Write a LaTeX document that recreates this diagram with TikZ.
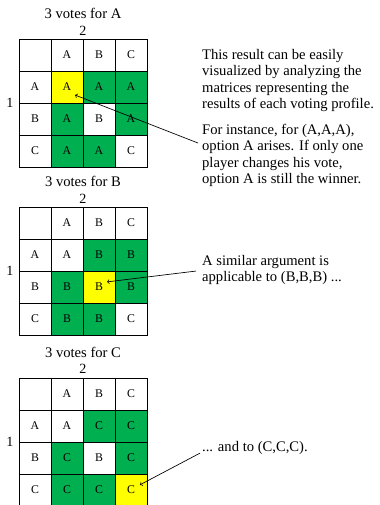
\documentclass[tikz,border=0pt]{standalone}
\usepackage{fontspec}
\setmainfont{Liberation Serif}
\usetikzlibrary{calc}
\tikzset{>=to}
\definecolor{wingreen}{RGB}{0,176,80}
\definecolor{pickyellow}{RGB}{255,255,0}
\tikzset{cell/.style = {draw, line width=0.7, minimum size=1cm, inner sep=0, font=\fontsize{10.5}{12}\selectfont}}
\tikzset{note/.style = {align=left, anchor=north west, inner sep=0, font=\fontsize{13}{14.67}\selectfont}}
\newcommand{\profile}[4]{
   \node[font=\fontsize{13}{15}\selectfont] (#1title) at (2.594,#2+0.81) {3 votes for #3};
   \node[font=\fontsize{12.5}{14}\selectfont] (#1two) at (2.594,#2+0.27) {2};
   \node[font=\fontsize{12.5}{14}\selectfont] (#1one) at (0.31,#2-2) {1};
   \foreach \r/\c/\txt/\col in {#4}
   {
      \node[cell, fill=\col] (#1-\r-\c) at (1.094+\c,#2-0.5-\r) {\txt};
   }
}

\begin{document}
\begin{tikzpicture}
		\useasboundingbox (0,0) rectangle (11.875,-15.781);

		% Matrices
		\profile{A}{-1.219}{A}{0/0//white, 0/1/A/white, 0/2/B/white, 0/3/C/white,
			1/0/A/white, 1/1/A/pickyellow, 1/2/A/wingreen, 1/3/A/wingreen,
			2/0/B/white, 2/1/A/wingreen, 2/2/B/white, 2/3/A/wingreen,
			3/0/C/white, 3/1/A/wingreen, 3/2/A/wingreen, 3/3/C/white}
		%
		\profile{B}{-6.469}{B}{0/0//white, 0/1/A/white, 0/2/B/white, 0/3/C/white,
			1/0/A/white, 1/1/A/white, 1/2/B/wingreen, 1/3/B/wingreen,
			2/0/B/white, 2/1/B/wingreen, 2/2/B/pickyellow, 2/3/B/wingreen,
			3/0/C/white, 3/1/B/wingreen, 3/2/B/wingreen, 3/3/C/white}
		%
		\profile{C}{-11.81}{C}{0/0//white, 0/1/A/white, 0/2/B/white, 0/3/C/white,
			1/0/A/white, 1/1/A/white, 1/2/C/wingreen, 1/3/C/wingreen,
			2/0/B/white, 2/1/C/wingreen, 2/2/B/white, 2/3/C/wingreen,
			3/0/C/white, 3/1/C/wingreen, 3/2/C/wingreen, 3/3/C/pickyellow}

		% Comments
		\node[note] (textA1) at (6.31,-1.53) {This result can be easily\\visualized by analyzing the\\matrices representing the\\results of each voting profile.};
		\node[note] (textA2) at (6.31,-3.86) {For instance, for (A,A,A),\\option A arises. If only one\\player changes his vote,\\option A is still the winner.};
		\node[note] (textB) at (6.31,-7.97) {A similar argument is\\applicable to (B,B,B) ...};
		\node[note, anchor=west] (textC) at (6.31,-14.0) {... and to (C,C,C).};

		% Arrows
		\coordinate (fromA) at (6.19,-4.47);
		\coordinate (fromB) at (6.125,-8.47);
		\coordinate (fromC) at (6.25,-14.16);
		\draw[->, line width=0.6] (fromA) -- ([shift={(0.25,-0.25)}]A-1-1.center);
		\draw[->, line width=0.6] (fromB) -- ([shift={(0.25,0.16)}]B-2-2.center);
		\draw[->, line width=0.6] (fromC) -- ([shift={(0.28,0.16)}]C-3-3.center);
\end{tikzpicture}
\end{document}
